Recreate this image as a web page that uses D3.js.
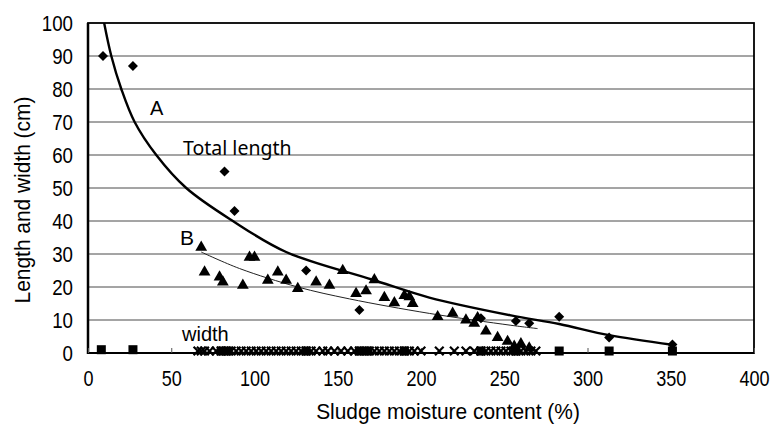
<!DOCTYPE html>
<html>
<head>
<meta charset="utf-8">
<script src="https://cdn.jsdelivr.net/npm/d3@7"></script>
<style>
  html, body { margin: 0; padding: 0; background: #fff; }
  svg { display: block; }
</style>
</head>
<body>
<svg id="chart" width="771" height="431"></svg>
<script>
// Axis ticks
const xTicks = [0, 50, 100, 150, 200, 250, 300, 350, 400];
const yTicks = [0, 10, 20, 30, 40, 50, 60, 70, 80, 90, 100];

// Total length (diamonds): [moisture %, cm]
const totalLength = [
  [9, 90], [27, 87], [82, 55], [88, 43], [131, 25], [163, 13],
  [236, 10.5], [257, 9.7], [265, 9], [283, 11], [313, 4.7], [351, 2.6]
];

// Length of the second group (triangles)
const lengthB = [
  [68, 32], [70, 24.5], [79, 23], [81, 21.5], [93, 20.5], [97, 29], [100, 29],
  [108, 22], [114, 24.5], [119, 22], [126, 19.5], [137, 21.5], [145, 20.5],
  [153, 25], [161, 18], [167, 18.8], [172, 22.2], [178, 16.8], [184, 15.2],
  [190, 17.4], [193, 17], [195, 15], [210, 11], [219, 12], [227, 10],
  [232, 9], [234, 10.7], [239, 6.6], [246, 4.7], [252, 3.5], [256, 2], [260, 2.8], [265, 1.5]
];

// Width (crosses), plotted near the bottom axis
const widthCross = [
  66, 68, 70, 73, 77, 80, 83, 86, 89, 92, 95, 98, 101, 104, 107, 110, 113, 116,
  119, 122, 125, 128, 131, 134, 137, 141, 144, 148, 152, 156, 160, 163, 166,
  169, 172, 175, 178, 181, 184, 187, 190, 193, 196, 200, 211, 220, 227, 232,
  236, 239, 242, 245, 248, 251, 254, 257, 260, 263, 266, 269
];
const widthCrossValue = 0.6;

// Width (squares)
const widthSquare = [
  [8, 1], [27, 1], [80, 0.6], [84, 0.6], [131, 0.6], [163, 0.6], [168, 0.6],
  [190, 0.6], [236, 0.6], [257, 0.6], [283, 0.6], [313, 0.6], [351, 0.6]
];

// Fitted curve A (total length) and B (length), points along each curve
const curveA = [
  [9.7, 100], [14, 90], [20, 80], [28, 70], [41, 60], [59, 50], [87, 40],
  [119, 30.6], [171, 22.2], [205, 16.8], [254, 11.4], [283, 8.8], [313, 5.4], [351, 2.5]
];
const curveB = [
  [68, 30.6], [91, 25.6], [126, 20], [157, 16.4], [205, 12], [254, 8.4], [270, 7.4]
];

(function draw() {
  const svg = d3.select("#chart");
  const pLeft = 88, pRight = 754, pTop = 23, pBottom = 353;

  const x = d3.scaleLinear().domain([0, 400]).range([pLeft, pRight]);
  const y = d3.scaleLinear().domain([0, 100]).range([pBottom, pTop]);

  const tickFont = "'Liberation Sans', Arial, sans-serif";

  // Narrow the glyphs of a text selection horizontally
  function condense(sel, k) {
    sel.each(function () {
      const w = this.getComputedTextLength();
      this.setAttribute("textLength", (w * k).toFixed(2));
      this.setAttribute("lengthAdjust", "spacingAndGlyphs");
    });
  }

  // Horizontal gridlines
  svg.append("g")
    .selectAll("line")
    .data(yTicks.filter(d => d > 0 && d < 100))
    .join("line")
    .attr("x1", pLeft).attr("x2", pRight)
    .attr("y1", d => y(d)).attr("y2", d => y(d))
    .attr("stroke", "#4a4a4a").attr("stroke-width", 1);

  // Plot frame
  svg.append("rect")
    .attr("x", pLeft).attr("y", pTop)
    .attr("width", pRight - pLeft).attr("height", pBottom - pTop)
    .attr("fill", "none").attr("stroke", "#000").attr("stroke-width", 1.8);
  svg.append("line")
    .attr("x1", pLeft).attr("x2", pLeft).attr("y1", pTop).attr("y2", pBottom + 1)
    .attr("stroke", "#000").attr("stroke-width", 2.5);
  svg.append("line")
    .attr("x1", pLeft).attr("x2", pRight).attr("y1", pBottom).attr("y2", pBottom)
    .attr("stroke", "#000").attr("stroke-width", 2);

  // Bottom axis: inside ticks and labels
  const xAxis = svg.append("g")
    .attr("transform", `translate(0,${pBottom})`)
    .call(d3.axisBottom(x).tickValues(xTicks).tickSizeInner(-5).tickSizeOuter(0).tickPadding(17));
  xAxis.select(".domain").remove();
  xAxis.selectAll("line").attr("stroke", "#555");
  xAxis.selectAll("text")
    .attr("font-family", tickFont).attr("font-size", 22).attr("fill", "#000")
    .call(condense, 0.82);

  // Left axis labels
  const yAxis = svg.append("g")
    .attr("transform", `translate(${pLeft},0)`)
    .call(d3.axisLeft(y).tickValues(yTicks).tickSize(0).tickPadding(15));
  yAxis.select(".domain").remove();
  yAxis.selectAll("text")
    .attr("font-family", tickFont).attr("font-size", 22).attr("fill", "#000")
    .call(condense, 0.85);

  // Axis titles
  svg.append("text")
    .attr("x", 448).attr("y", 419)
    .attr("text-anchor", "middle")
    .attr("font-family", tickFont).attr("font-size", 22)
    .text("Sludge moisture content (%)")
    .call(condense, 0.95);
  svg.append("text")
    .attr("transform", "translate(30,200) rotate(-90)")
    .attr("text-anchor", "middle")
    .attr("font-family", tickFont).attr("font-size", 22)
    .text("Length and width (cm)")
    .call(condense, 0.95);

  const plot = svg.append("g");
  plot.append("clipPath").attr("id", "clip")
    .append("rect").attr("x", pLeft).attr("y", pTop).attr("width", pRight - pLeft).attr("height", pBottom - pTop);

  const line = d3.line().x(d => x(d[0])).y(d => y(d[1])).curve(d3.curveCatmullRom.alpha(0.5));

  // Curve A
  plot.append("path")
    .attr("d", line(curveA))
    .attr("clip-path", "url(#clip)")
    .attr("fill", "none").attr("stroke", "#000").attr("stroke-width", 2.4);

  // Curve B
  plot.append("path")
    .attr("d", line(curveB))
    .attr("fill", "none").attr("stroke", "#222").attr("stroke-width", 1);

  // Width crosses
  const cross = d3.symbol().type(d3.symbolX).size(50);
  plot.append("g").selectAll("path")
    .data(widthCross)
    .join("path")
    .attr("transform", d => `translate(${x(d)},${y(widthCrossValue)})`)
    .attr("d", cross)
    .attr("fill", "none").attr("stroke", "#000").attr("stroke-width", 2.2);

  // Width squares
  plot.append("g").selectAll("rect")
    .data(widthSquare)
    .join("rect")
    .attr("x", d => x(d[0]) - 4.5).attr("y", d => y(d[1]) - 4.5)
    .attr("width", 9).attr("height", 9)
    .attr("fill", "#000");

  // Triangles
  const tri = d3.symbol().type(d3.symbolTriangle).size(60);
  plot.append("g").selectAll("path")
    .data(lengthB)
    .join("path")
    .attr("transform", d => `translate(${x(d[0])},${y(d[1])})`)
    .attr("d", tri)
    .attr("fill", "#000");

  // Diamonds
  const dia = d3.symbol().type(d3.symbolDiamond2).size(64);
  plot.append("g").selectAll("path")
    .data(totalLength)
    .join("path")
    .attr("transform", d => `translate(${x(d[0])},${y(d[1])})`)
    .attr("d", dia)
    .attr("fill", "#000");

  // Curve labels
  svg.append("text").attr("x", 150).attr("y", 115)
    .attr("font-family", tickFont).attr("font-size", 20).text("A");
  svg.append("text").attr("x", 180).attr("y", 245)
    .attr("font-family", tickFont).attr("font-size", 21).text("B");
  svg.append("text").attr("x", 183).attr("y", 155)
    .attr("font-family", "'Noto Sans', sans-serif").attr("font-size", 19.5).text("Total length");
  svg.append("text").attr("x", 182).attr("y", 341)
    .attr("font-family", tickFont).attr("font-size", 20).text("width");
})();
</script>
</body>
</html>
